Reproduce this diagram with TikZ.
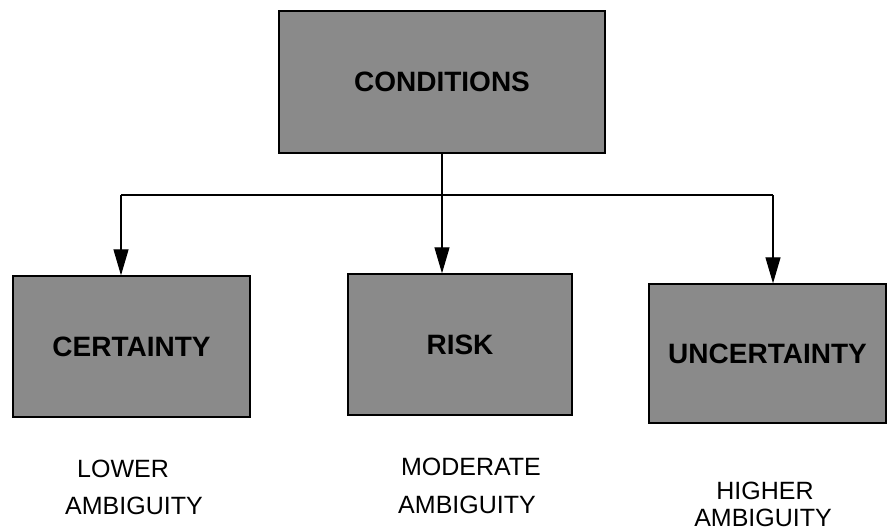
\documentclass[tikz,border=0pt]{standalone}
\usepackage{fontspec}
\setmainfont{Liberation Sans}
\usetikzlibrary{arrows.meta}

\tikzset{
  boxnode/.style={draw=black, line width=1.3pt, fill=black!46, inner sep=0pt,
    font=\fontsize{28}{32}\selectfont\bfseries},
  labelnode/.style={inner sep=0pt, font=\fontsize{25}{29}\selectfont},
  arr/.style={line width=1.1pt, -{Triangle[length=26pt,width=15pt]}}
}

\begin{document}
\begin{tikzpicture}[x=1pt,y=-1pt]
        \useasboundingbox (0,0) rectangle (888,532);
        % boxes
        \node[boxnode, minimum width=326pt, minimum height=142pt] (cond) at (442,82) {CONDITIONS};
        \node[boxnode, minimum width=237pt, minimum height=141pt] (cert) at (131.5,346.5) {CERTAINTY};
        \node[boxnode, minimum width=224pt, minimum height=141pt] (risk) at (460,344.5) {RISK};
        \node[boxnode, minimum width=237pt, minimum height=139pt] (uncert) at (767.5,353.5) {UNCERTAINTY};

        % connectors
        \coordinate (tl) at (121,195);
        \coordinate (tr) at (773,195);
        \draw[line width=1.1pt] (tl) -- (tr);
        \draw[arr] (cond.south) -- (cond.south |- risk.north);
        \draw[arr] (tl) -- (tl |- cert.north);
        \draw[arr] (tr) -- (tr |- uncert.north);

        % ambiguity labels
        \node[labelnode] (lowA) at (123,469) {LOWER};
        \node[labelnode] (lowB) at (134,506) {AMBIGUITY};
        \node[labelnode] (modA) at (471,467) {MODERATE};
        \node[labelnode] (modB) at (467,505) {AMBIGUITY};
        \node[labelnode] (highA) at (765,491) {HIGHER};
        \node[labelnode] (highB) at (763,518) {AMBIGUITY};
\end{tikzpicture}
\end{document}
